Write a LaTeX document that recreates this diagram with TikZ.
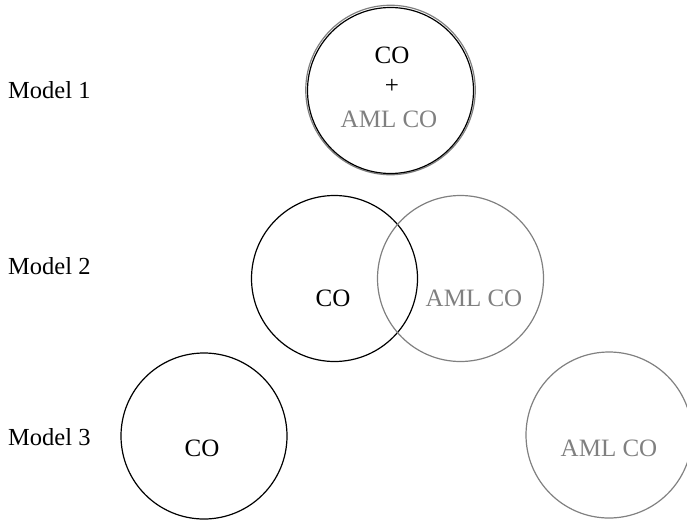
\documentclass[tikz,border=0pt]{standalone}
\usepackage{fontspec}
\setmainfont{Liberation Serif}
\definecolor{amlgray}{RGB}{128,128,128}
\begin{document}
\begin{tikzpicture}[x=1pt,y=-1pt,
  ring/.style={circle,draw=black,line width=1.2pt,minimum size=166pt,inner sep=0pt},
  amlring/.style={circle,draw=amlgray,line width=1.2pt,minimum size=166pt,inner sep=0pt},
  lbl/.style={font=\fontsize{24.5}{26}\selectfont,inner sep=0pt,anchor=west},
  txt/.style={font=\fontsize{25}{27}\selectfont,inner sep=0pt},
  amltxt/.style={txt,text=amlgray}]
\useasboundingbox (0,0) rectangle (687,519);
% Model 1
\node[amlring,minimum size=169.5pt] (m1g) at (390.5,90) {};
\node[ring] (m1b) at (390.5,90.5) {};
\node[txt] (m1co) at (392,55) {CO};
\node[txt] (m1plus) at (392,86) {+};
\node[amltxt] (m1aml) at (389,119) {AML CO};
\node[lbl] (l1) at (8,90) {Model 1};
% Model 2
\node[ring] (m2b) at (334.5,278.5) {};
\node[amlring] (m2g) at (460.5,278.5) {};
\node[txt] (m2co) at (333,298) {CO};
\node[amltxt] (m2aml) at (474,298) {AML CO};
\node[lbl] (l2) at (8,266) {Model 2};
% Model 3
\node[ring] (m3b) at (204,436) {};
\node[amlring] (m3g) at (609,435) {};
\node[txt] (m3co) at (202,448) {CO};
\node[amltxt] (m3aml) at (609,448) {AML CO};
\node[lbl] (l3) at (8,437) {Model 3};
\end{tikzpicture}
\end{document}
